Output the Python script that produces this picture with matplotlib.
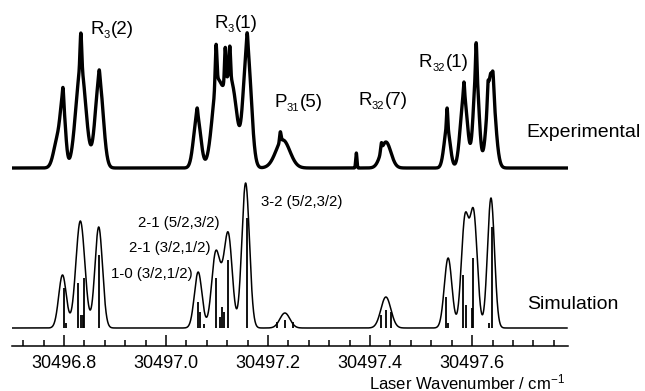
import numpy as np
import matplotlib
matplotlib.use("Agg")
import matplotlib.pyplot as plt
from matplotlib.ticker import MultipleLocator, FormatStrFormatter

plt.rcParams['font.family'] = ['Liberation Sans', 'DejaVu Sans']
plt.rcParams['mathtext.default'] = 'regular'

# ---- data (wavenumber in cm^-1, intensity in arbitrary units) ----
sim_pos = [30496.797, 30496.832, 30496.868, 30497.063, 30497.097, 30497.109, 30497.122,
           30497.156, 30497.233, 30497.431, 30497.553, 30497.586, 30497.603, 30497.637]
sim_amp = [53, 107, 101, 56, 72, 20, 92, 145, 15, 31, 70, 107, 112, 130]
sim_sig = [0.00745, 0.00882, 0.00745, 0.00745, 0.00784, 0.00686, 0.00784, 0.00745,
           0.0098, 0.0098, 0.00745, 0.00725, 0.00725, 0.00686]

stick_pos = [30496.800, 30496.804, 30496.827, 30496.833, 30496.837, 30496.839, 30496.869,
             30497.063, 30497.067, 30497.075, 30497.098, 30497.106, 30497.110, 30497.114,
             30497.122, 30497.159, 30497.218, 30497.233, 30497.249, 30497.422, 30497.431,
             30497.441, 30497.549, 30497.553, 30497.582, 30497.588, 30497.600, 30497.602,
             30497.633, 30497.639]
stick_hgt = [40, 5, 45, 13, 13, 50, 73,
             26, 16, 4, 50, 11, 21, 16,
             68, 110, 6, 8, 6, 13, 18,
             16, 31, 5, 53, 23, 20, 70,
             5, 101]

# experimental band components: broad bodies plus narrow noise spikes
exp_pos = [30496.788, 30496.798, 30496.798, 30496.833, 30496.833, 30496.869, 30496.869,
           30497.061, 30497.061, 30497.100, 30497.123, 30497.098, 30497.116, 30497.125,
           30497.136, 30497.159, 30497.159,
           30497.224, 30497.229, 30497.373, 30497.422, 30497.431,
           30497.551, 30497.551, 30497.584, 30497.584, 30497.608, 30497.608,
           30497.637, 30497.631, 30497.641]
exp_amp = [30, 55, 12, 100, 35, 88, 10,
           52, 8, 82, 82, 40, 35, 30,
           30, 120, 15,
           10, 28, 15, 8, 26,
           40, 20, 72, 14, 95, 30,
           95, 15, 12]
exp_sig = [0.0078, 0.0049, 0.0012, 0.0098, 0.0016, 0.0078, 0.0012,
           0.0069, 0.0012, 0.0098, 0.0098, 0.0016, 0.0014, 0.0014,
           0.0069, 0.0078, 0.0014,
           0.0014, 0.0137, 0.0012, 0.0014, 0.0098,
           0.0059, 0.0012, 0.0069, 0.0012, 0.0055, 0.0012,
           0.0078, 0.0012, 0.0012]

sim_offset = 18
exp_offset = 178

labels = [('R', '3', '(2)'), ('R', '3', '(1)'), ('P', '31', '(5)'),
          ('R', '32', '(7)'), ('R', '32', '(1)')]
assign = ['3-2 (5/2,3/2)', '2-1 (5/2,3/2)', '2-1 (3/2,1/2)', '1-0 (3/2,1/2)']

# ---- figure ----
W, H = 645, 391
fig = plt.figure(figsize=(W / 100, H / 100), dpi=100)
ax = fig.add_axes([12 / W, 45 / H, 556 / W, 346 / H])
x0, x1 = 30496.698, 30497.788
ax.set_xlim(x0, x1)
ax.set_ylim(0, 346)

def spectrum(x, pos, amp, sig):
    y = np.zeros_like(x)
    for p, a, s in zip(pos, amp, sig):
        y += a * np.exp(-0.5 * ((x - p) / s) ** 2)
    return y

xs = np.linspace(x0, x1 - 0.002, 8000)
ax.plot(xs, exp_offset + spectrum(xs, exp_pos, exp_amp, exp_sig), color='black', lw=2.4,
        solid_joinstyle='round')
ax.plot(xs, sim_offset + spectrum(xs, sim_pos, sim_amp, sim_sig), color='black', lw=1.1)
ax.vlines(stick_pos, sim_offset, [sim_offset + h for h in stick_hgt], color='black', lw=1.3)

for s in ['top', 'left', 'right']:
    ax.spines[s].set_visible(False)
ax.spines['bottom'].set_linewidth(1.1)
ax.set_yticks([])
ax.xaxis.set_major_locator(MultipleLocator(0.2))
ax.xaxis.set_minor_locator(MultipleLocator(0.04))
ax.xaxis.set_major_formatter(FormatStrFormatter('%.1f'))
ax.tick_params(axis='x', which='major', direction='in', length=8, width=1.1,
               labelsize=13, pad=6.5)
ax.tick_params(axis='x', which='minor', direction='in', length=4.3, width=1.1)

def ft(xp, yp, s, size, **kw):
    return fig.text(xp / W, 1 - yp / H, s, fontsize=size, ha=kw.pop('ha', 'left'),
                    va=kw.pop('va', 'baseline'), **kw)

renderer = fig.canvas.get_renderer()

def band_label(xp, yp, parts, size=13.5, subsize=8):
    main, sub, rest = parts
    t = ft(xp, yp, main, size)
    w = t.get_window_extent(renderer).width
    t2 = ft(xp + w + 0.5, yp + 4, sub, subsize)
    w2 = t2.get_window_extent(renderer).width
    ft(xp + w + w2 + 1, yp, rest, size)

# band labels (baseline positions in px)
band_label(90, 34, labels[0])
band_label(214, 28, labels[1])
band_label(274, 107, labels[2])
band_label(358, 105, labels[3])
band_label(419, 67, labels[4])
ft(526, 137, 'Experimental', 14)
ft(527, 309, 'Simulation', 14)

# hyperfine assignments
ft(261, 206, assign[0], 10.8)
ft(138, 227, assign[1], 10.8)
ft(129, 252, assign[2], 10.8)
ft(111, 278, assign[3], 10.8)

ft(565, 389, 'Laser Wavenumber / cm$^{-1}$', 12, ha='right', va='baseline')

fig.savefig('out.png', dpi=100)
